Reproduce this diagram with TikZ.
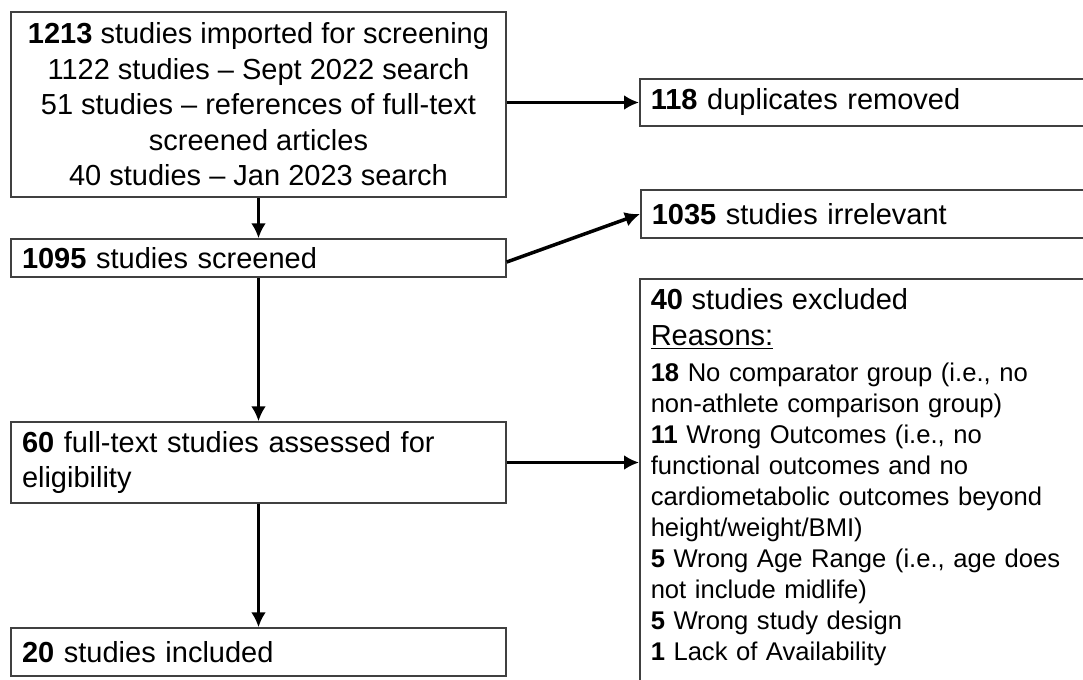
\documentclass[tikz,border=0pt]{standalone}
\usepackage{fontspec}
\setmainfont{Liberation Sans}
\usetikzlibrary{calc,arrows.meta}

\tikzset{
  box/.style={draw=black!75,line width=0.75pt,inner xsep=5.5pt,font=\fontsize{14.5}{17.75}\selectfont},
  leftbox/.style={box,text width=236.5pt,align=left},
  sidebox/.style={box,anchor=west,text width=215pt,align=left},
  arr/.style={line width=1.75pt,-{Latex[length=7.5pt,width=7.5pt]}}
}

\begin{document}
\begin{tikzpicture}[x=0.5pt,y=-0.5pt]
\useasboundingbox (0,0) rectangle (1083,680);
% Left column - screening stages
\node[box,align=center,minimum width=247.5pt,minimum height=92.5pt] (imported) at (258.5,104.5)
  {\textbf{1213} studies imported for screening\\1122 studies -- Sept 2022 search\\51 studies -- references of full-text\\screened articles\\40 studies -- Jan 2023 search};
\node[leftbox,minimum height=19pt] (screened) at (258.5,258) {\textbf{1095} studies screened};
\node[leftbox,minimum height=40.5pt] (fulltext) at (258.5,462.5) {\textbf{60} full-text studies assessed for\\eligibility};
\node[leftbox,minimum height=24pt] (included) at (258.5,652) {\textbf{20} studies included};

% Right column - removed and excluded
\node[sidebox,minimum height=23.5pt] (duplicates) at (639,102.5) {\textbf{118} duplicates removed};
\node[sidebox,minimum height=24pt] (irrelevant) at (640,214) {\textbf{1035} studies irrelevant};
\node[box,anchor=north west,text width=215pt,align=left,inner ysep=5pt,
  font=\fontsize{12.8}{15.5}\selectfont] (excluded) at (639,278)
  {{\fontsize{14.5}{15.5}\selectfont\textbf{40} studies excluded}\\[2.5pt]
   {\fontsize{14.5}{15.5}\selectfont\underline{Reasons:}}\\[2.5pt]
   \textbf{18} No comparator group (i.e., no\\
   non-athlete comparison group)\\
   \textbf{11} Wrong Outcomes (i.e., no\\
   functional outcomes and no\\
   cardiometabolic outcomes beyond\\
   height/weight/BMI)\\
   \textbf{5} Wrong Age Range (i.e., age does\\
   not include midlife)\\
   \textbf{5} Wrong study design\\
   \textbf{1} Lack of Availability\\[20pt]\mbox{}};

% Arrows
\draw[arr] (imported) -- (screened);
\draw[arr] (screened) -- (fulltext);
\draw[arr] (fulltext) -- (included);
\draw[arr] (imported.east |- duplicates.west) -- (duplicates.west);
\draw[arr] ([yshift=-2pt]screened.east) -- (irrelevant.west);
\draw[arr] (fulltext.east) -- (fulltext.east -| excluded.west);
\end{tikzpicture}
\end{document}
